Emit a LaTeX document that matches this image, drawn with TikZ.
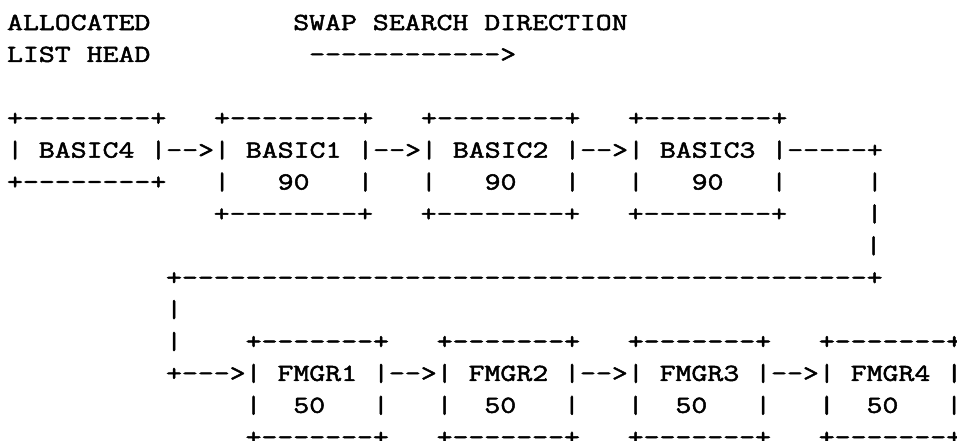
\documentclass[tikz,border=0pt]{standalone}
\usepackage{fontspec}
\setmonofont{Latin Modern Mono}[FakeStretch=1.262,FakeBold=2]
\begin{document}
\begin{tikzpicture}[x=15.9pt,y=-31.9pt,
  asc/.style={anchor=base west,inner sep=0pt,outer sep=0pt,
    font=\ttfamily\fontsize{24.5}{32}\selectfont}]
\path[fill=white,use as bounding box] (-7.05pt,30pt) rectangle (949.95pt,-410pt);
% header
\node[asc] (alloc) at (0,0) {ALLOCATED};
\node[asc] (swap)  at (18,0) {SWAP~SEARCH~DIRECTION};
\node[asc] (head)  at (0,1) {LIST~HEAD};
\node[asc] (dir)   at (19,1) {------------>};
% BASIC chain
\node[asc] (r3) at (0,3) {+--------+~~~+--------+~~~+--------+~~~+--------+};
\node[asc] (r4) at (0,4) {|~BASIC4~|-->|~BASIC1~|-->|~BASIC2~|-->|~BASIC3~|-----+};
\node[asc] (r5) at (0,5) {+--------+~~~|~~~90~~~|~~~|~~~90~~~|~~~|~~~90~~~|~~~~~|};
\node[asc] (r6) at (13,6) {+--------+~~~+--------+~~~+--------+~~~~~|};
\node[asc] (r7) at (54,7) {|};
% return line
\node[asc] (r8) at (10,8) {+-------------------------------------------+};
\node[asc] (r9) at (10,9) {|};
% FMGR chain
\node[asc] (r10) at (10,10) {|~~~~+-------+~~~+-------+~~~+-------+~~~+-------+};
\node[asc] (r11) at (10,11) {+--->|~FMGR1~|-->|~FMGR2~|-->|~FMGR3~|-->|~FMGR4~|};
\node[asc] (r12) at (15,12) {|~~50~~~|~~~|~~50~~~|~~~|~~50~~~|~~~|~~50~~~|};
\node[asc] (r13) at (15,13) {+-------+~~~+-------+~~~+-------+~~~+-------+};
\end{tikzpicture}
\end{document}
